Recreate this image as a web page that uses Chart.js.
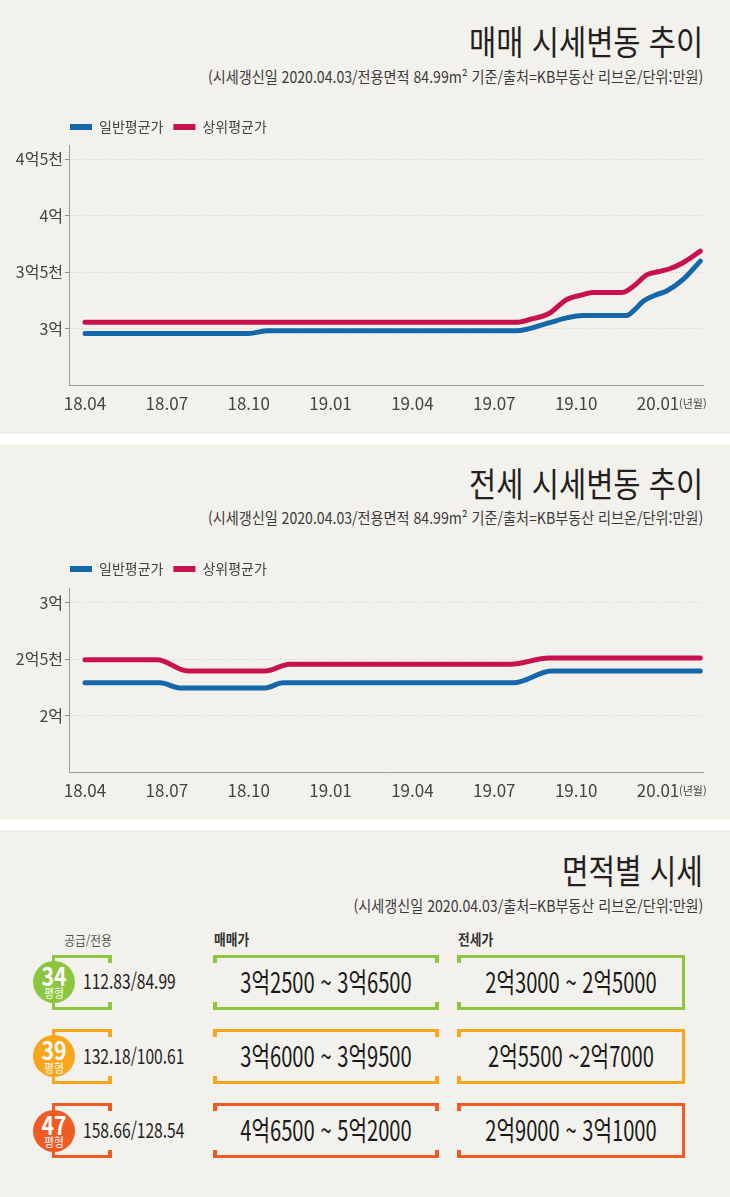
<!DOCTYPE html>
<html lang="ko">
<head>
<meta charset="utf-8">
<title>매매·전세 시세변동 추이</title>
<script src="https://cdn.jsdelivr.net/npm/chart.js@4.4.1/dist/chart.umd.min.js"></script>
<style>
  html,body{margin:0;padding:0;background:#ffffff;}
  #page{position:relative;width:730px;height:1197px;overflow:hidden;font-family:'Noto Sans CJK KR','Noto Sans',sans-serif;background:#fff;}
  .panel{position:absolute;left:0;width:730px;background:#f3f1ec;}
  .tx{position:absolute;white-space:nowrap;line-height:0;}
  .bx{position:absolute;box-sizing:border-box;}
  canvas{position:absolute;left:0;}
</style>
</head>
<body>
<div id="page">
  <div class="panel" style="top:0;height:434px"></div>
  <div class="panel" style="top:444px;height:376px"></div>
  <div class="panel" style="top:830px;height:367px"></div>
  <canvas id="saleChart" width="730" height="315" style="top:110px"></canvas>
  <canvas id="jeonseChart" width="730" height="260" style="top:552px"></canvas>
</div>
<script>
// ---------------- DATA ----------------
const seriesNames = ['일반평균가', '상위평균가'];
const tickMonths = [0, 3, 6, 9, 12, 15, 18, 21];           // months since 2018.04
const tickLabels = ['18.04', '18.07', '18.10', '19.01', '19.04', '19.07', '19.10', '20.01'];
const unitText = '(년월)';

// 매매 (sale) – 만원
const saleNormalX = [0, 6.0, 6.7, 15.8, 17.0, 17.65, 18.25, 19.85, 20.15, 20.45, 20.95, 21.3, 21.9, 22.55];
const saleNormalY = [29560, 29560, 29800, 29800, 30500, 30940, 31150, 31150, 31680, 32400, 33000, 33300, 34300, 35970];
const saleTopX = [0, 15.8, 16.3, 17.0, 17.65, 18.25, 18.6, 19.7, 20.1, 20.6, 21.06, 21.4, 21.9, 22.55];
const saleTopY = [30550, 30550, 30800, 31330, 32560, 33000, 33200, 33200, 33740, 34770, 35060, 35270, 35800, 36850];
const saleYTicks = [30000, 35000, 40000, 45000];
const saleYLabels = ['3억', '3억5천', '4억', '4억5천'];

// 전세 (jeonse) – 만원
const jeonseNormalX = [0, 2.75, 3.48, 6.6, 7.26, 15.7, 17.1, 22.55];
const jeonseNormalY = [22900, 22900, 22450, 22450, 22900, 22900, 23950, 23950];
const jeonseTopX = [0, 2.64, 3.77, 6.6, 7.5, 15.6, 17.0, 22.55];
const jeonseTopY = [24950, 24950, 23950, 23950, 24550, 24550, 25100, 25100];
const jeonseYTicks = [20000, 25000, 30000];
const jeonseYLabels = ['2억', '2억5천', '3억'];

// 면적별 시세 table
const sizeTypes = ['34', '39', '47'];
const areaSupplyExclusive = ['112.83/84.99', '132.18/100.61', '158.66/128.54'];
const saleRanges = ['3억2500 ~ 3억6500', '3억6000 ~ 3억9500', '4억6500 ~ 5억2000'];
const jeonseRanges = ['2억3000 ~ 2억5000', '2억5500 ~2억7000', '2억9000 ~ 3억1000'];

// ---------------- STYLE ----------------
const BLUE = '#1467a9', RED = '#c8124f';
const rowColors = ['#8cc63f', '#f8a61b', '#f05a23'];
const KFONT = "'Noto Sans CJK KR', 'Noto Sans', sans-serif";

function fontAvailable(name) {
  const c = document.createElement('canvas').getContext('2d');
  const s = 'mmmwwwiii 18.04 lllMMM';
  c.font = '40px monospace'; const w1 = c.measureText(s).width;
  c.font = '40px serif'; const w2 = c.measureText(s).width;
  c.font = `40px "${name}", monospace`; const w3 = c.measureText(s).width;
  c.font = `40px "${name}", serif`; const w4 = c.measureText(s).width;
  return w3 === w4 && w1 !== w2;
}
const NARROW = fontAvailable('Liberation Sans Narrow');
const xFont = NARROW ? {family: "'Liberation Sans Narrow', " + KFONT, size: 20} : {family: KFONT, size: 17};
const yFont = NARROW ? {family: "'Liberation Sans Narrow', " + KFONT, size: 19} : {family: KFONT, size: 16};
const X_TICK_PAD = 0;

const X_MIN = -0.586, X_MAX = 22.649;

const legendFix = (h, shift) => ({
  id: 'legendFix',
  beforeInit(chart) {
    const orig = chart.legend.fit;
    chart.legend.fit = function () { orig.call(this); this.height = h; };
  },
  afterLayout(chart) {
    chart.legend.left += shift;
    chart.legend.right += shift;
  }
});
const unitLabel = {
  id: 'unitLabel',
  afterDraw(chart) {
    const xs = chart.scales.x, ctx = chart.ctx;
    ctx.save();
    ctx.font = '11px ' + KFONT;
    ctx.fillStyle = '#444';
    ctx.textBaseline = 'middle';
    ctx.textAlign = 'left';
    ctx.fillText(unitText, xs.getPixelForValue(tickMonths[tickMonths.length - 1]) + 21, xs.top + 19);
    ctx.restore();
  }
};

function toPts(xs, ys) { return xs.map((x, i) => ({x, y: ys[i]})); }

function buildChart(id, o) {
  return new Chart(document.getElementById(id), {
    type: 'line',
    data: {
      datasets: [
        {label: seriesNames[0], data: toPts(o.nx, o.ny), borderColor: BLUE, backgroundColor: BLUE},
        {label: seriesNames[1], data: toPts(o.tx, o.ty), borderColor: RED, backgroundColor: RED}
      ]
    },
    options: {
      responsive: false, animation: false, devicePixelRatio: 1,
      layout: {padding: {left: 0, right: 27, top: 0, bottom: 0}},
      elements: {
        line: {borderWidth: 5, borderCapStyle: 'round', borderJoinStyle: 'round', cubicInterpolationMode: 'monotone', fill: false},
        point: {radius: 0, hoverRadius: 0}
      },
      plugins: {
        legend: {
          display: true, position: 'top', align: 'start',
          labels: {
            boxWidth: 22, boxHeight: 6, padding: 10, color: '#444', font: {family: KFONT, size: 14},
            generateLabels(chart) {
              return Chart.defaults.plugins.legend.labels.generateLabels(chart)
                .map(l => Object.assign({}, l, {lineWidth: 0, fillStyle: l.strokeStyle}));
            }
          }
        },
        tooltip: {enabled: false}
      },
      scales: {
        x: {
          type: 'linear', min: X_MIN, max: X_MAX,
          grid: {display: false},
          border: {display: true, color: '#9b9b9b', width: 1},
          afterBuildTicks(s) { s.ticks = tickMonths.map(v => ({value: v})); },
          ticks: {autoSkip: false, maxRotation: 0, padding: X_TICK_PAD, color: '#444', font: xFont,
                  callback: v => tickLabels[tickMonths.indexOf(v)]},
          afterFit(s) { s.height = 40; }
        },
        y: {
          type: 'linear', min: o.min, max: o.max,
          grid: {color: '#d2cec6', lineWidth: 1, tickLength: 4, tickColor: '#8e8e8e', tickBorderDash: []},
          border: {display: true, color: '#9b9b9b', width: 1, dash: [1, 2]},
          afterBuildTicks(s) { s.ticks = o.yt.map(v => ({value: v})); },
          ticks: {padding: 2, color: '#444', font: yFont, callback: v => o.yl[o.yt.indexOf(v)]},
          afterFit(s) { s.width = 69; }
        }
      }
    },
    plugins: [legendFix(o.legendH, 60), unitLabel]
  });
}

buildChart('saleChart', {nx: saleNormalX, ny: saleNormalY, tx: saleTopX, ty: saleTopY,
  min: 25000, max: 46250, yt: saleYTicks, yl: saleYLabels, legendH: 35});
buildChart('jeonseChart', {nx: jeonseNormalX, ny: jeonseNormalY, tx: jeonseTopX, ty: jeonseTopY,
  min: 15000, max: 31300, yt: jeonseYTicks, yl: jeonseYLabels, legendH: 36});

// ---------------- TEXT / TABLE ----------------
const page = document.getElementById('page');
function addText(str, o) {
  const d = document.createElement('div');
  d.className = 'tx';
  d.textContent = str;
  const fs = o.size;
  d.style.fontSize = fs + 'px';
  d.style.top = (o.y - 0.06 * fs) + 'px';
  d.style.color = o.color || '#222';
  d.style.fontWeight = o.weight || 400;
  const s = o.sx || 1;
  if (o.align === 'right') {
    d.style.right = (730 - o.x) + 'px'; d.style.transformOrigin = 'right center'; d.style.transform = `scaleX(${s})`;
  } else if (o.align === 'center') {
    d.style.left = o.x + 'px'; d.style.transformOrigin = 'center center'; d.style.transform = `translateX(-50%) scaleX(${s})`;
  } else {
    d.style.left = o.x + 'px'; d.style.transformOrigin = 'left center'; d.style.transform = `scaleX(${s})`;
  }
  page.appendChild(d);
  return d;
}
function addBox(l, t, w, h, css) {
  const d = document.createElement('div');
  d.className = 'bx';
  d.style.left = l + 'px'; d.style.top = t + 'px'; d.style.width = w + 'px'; d.style.height = h + 'px';
  Object.assign(d.style, css || {});
  page.appendChild(d);
  return d;
}

const sub1 = '(시세갱신일 2020.04.03/전용면적 84.99m² 기준/출처=KB부동산 리브온/단위:만원)';
addText('매매 시세변동 추이', {x: 703, y: 43, size: 34, sx: 0.87, align: 'right', color: '#231f20'});
addText(sub1, {x: 703, y: 77, size: 15.5, sx: 0.91, align: 'right', color: '#3a3a3a'});
addText('전세 시세변동 추이', {x: 703, y: 485, size: 34, sx: 0.87, align: 'right', color: '#231f20'});
addText(sub1, {x: 703, y: 518, size: 15.5, sx: 0.91, align: 'right', color: '#3a3a3a'});
addText('면적별 시세', {x: 703, y: 872, size: 34, sx: 0.85, align: 'right', color: '#231f20'});
addText('(시세갱신일 2020.04.03/출처=KB부동산 리브온/단위:만원)', {x: 703, y: 906, size: 15.5, sx: 0.91, align: 'right', color: '#3a3a3a'});

addText('공급/전용', {x: 88, y: 941, size: 13, sx: 0.9, align: 'center', color: '#555'});
addText('매매가', {x: 214, y: 940, size: 15, sx: 0.85, color: '#333', weight: 700});
addText('전세가', {x: 458, y: 940, size: 15, sx: 0.85, color: '#333', weight: 700});

const rowTop0 = 954.5, rowGap = 74.3, rowH = 55, LW = 3.4, STW = 4, STH = 8;
sizeTypes.forEach((t, i) => {
  const top = rowTop0 + i * rowGap, c = rowColors[i];
  const line = LW + 'px solid ' + c;
  // area bracket
  addBox(52, top, 60, rowH, {borderTop: line, borderBottom: line, borderLeft: line});
  addBox(112 - STW, top, STW, STH, {background: c});
  addBox(112 - STW, top + rowH - STH, STW, STH, {background: c});
  // sale bracket
  addBox(213, top, 226, rowH, {borderTop: line, borderBottom: line});
  addBox(213, top, STW, STH, {background: c});
  addBox(213, top + rowH - STH, STW, STH, {background: c});
  addBox(439 - STW, top, STW, STH, {background: c});
  addBox(439 - STW, top + rowH - STH, STW, STH, {background: c});
  // jeonse bracket
  addBox(457, top, 228, rowH, {borderTop: line, borderBottom: line, borderRight: line});
  addBox(457, top, STW, STH, {background: c});
  addBox(457, top + rowH - STH, STW, STH, {background: c});
  // circle badge
  const cy = top + 27.5;
  addBox(33, cy - 21, 42, 42, {background: c, borderRadius: '50%'});
  addText(t, {x: 54, y: cy - 5.5, size: 25, sx: 0.85, align: 'center', color: '#fff', weight: 700});
  addText('평형', {x: 54, y: cy + 12, size: 12, sx: 0.9, align: 'center', color: '#fff'});
  // texts
  addText(areaSupplyExclusive[i], {x: 83, y: top + 28, size: 20, sx: 0.78, color: '#222'});
  addText(saleRanges[i], {x: 326, y: top + 28, size: 28, sx: 0.72, align: 'center', color: '#1a1a1a'});
  addText(jeonseRanges[i], {x: 571, y: top + 28, size: 28, sx: 0.72, align: 'center', color: '#1a1a1a'});
});
</script>
</body>
</html>
